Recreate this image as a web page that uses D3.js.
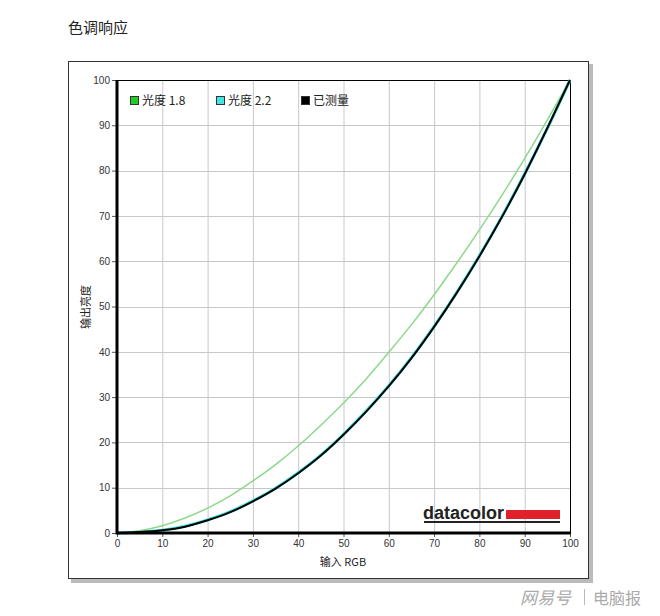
<!DOCTYPE html>
<html>
<head>
<meta charset="utf-8">
<script src="https://cdn.jsdelivr.net/npm/d3@7"></script>
<style>
  body { margin: 0; background: #fff; }
  svg { display: block; }
</style>
</head>
<body>
<div id="chart"></div>
<script>
// 输入 RGB 数值（x 轴）
var inputs = [0, 5, 10, 15, 20, 25, 30, 35, 40, 45, 50, 55, 60, 65, 70, 75, 80, 85, 90, 95, 100];
// 光度 1.8
var gamma18 = [0, 0.5, 1.6, 3.3, 5.5, 8.2, 11.5, 15.1, 19.2, 23.8, 28.7, 34.0, 39.9, 46.0, 52.6, 59.6, 66.9, 74.6, 82.7, 91.2, 100];
// 光度 2.2
var gamma22 = [0, 0.15, 0.6, 1.5, 2.9, 4.7, 7.1, 9.9, 13.3, 17.2, 21.8, 26.9, 32.5, 38.7, 45.6, 53.1, 61.2, 69.9, 79.3, 89.3, 100];
// 已测量
var measured = [0, 0.2, 0.6, 1.4, 2.8, 4.6, 7.0, 9.8, 13.2, 17.1, 21.7, 26.8, 32.4, 38.6, 45.5, 53.0, 61.1, 69.8, 79.2, 89.4, 100];
var ticks = [0, 10, 20, 30, 40, 50, 60, 70, 80, 90, 100];

var width = 660, height = 616;
var svg = d3.select("#chart").append("svg")
    .attr("width", width)
    .attr("height", height);

// 标题
svg.append("text")
    .attr("x", 68).attr("y", 33)
    .attr("font-family", "Noto Sans CJK SC")
    .attr("font-size", 15)
    .attr("fill", "#222")
    .text("色调响应");

// 外框和阴影
svg.append("rect").attr("x", 71).attr("y", 64).attr("width", 522).attr("height", 519).attr("fill", "#bbb");
svg.append("rect").attr("x", 68.5).attr("y", 61.5).attr("width", 520).attr("height", 517)
    .attr("fill", "#fff").attr("stroke", "#333").attr("stroke-width", 1);

var x = d3.scaleLinear().domain([0, 100]).range([117, 570]);
var y = d3.scaleLinear().domain([0, 100]).range([533, 80]);

// 网格
var grid = svg.append("g");
grid.selectAll(".gx").data(ticks.slice(1, -1)).enter().append("line")
    .attr("x1", d => x(d) + 0.5).attr("x2", d => x(d) + 0.5)
    .attr("y1", y(100)).attr("y2", y(0))
    .attr("stroke", "#c8c8c8");
grid.selectAll(".gy").data(ticks.slice(1, -1)).enter().append("line")
    .attr("y1", d => Math.round(y(d)) + 0.5).attr("y2", d => Math.round(y(d)) + 0.5)
    .attr("x1", x(0)).attr("x2", x(100))
    .attr("stroke", "#c8c8c8");

// 上、右边框
svg.append("line").attr("x1", x(0)).attr("x2", x(100)).attr("y1", y(100) + 0.5).attr("y2", y(100) + 0.5).attr("stroke", "#000");
svg.append("line").attr("x1", x(100) + 0.5).attr("x2", x(100) + 0.5).attr("y1", y(100)).attr("y2", y(0)).attr("stroke", "#000");

// datacolor 标志
svg.append("text")
    .attr("x", 423).attr("y", 519)
    .attr("font-family", "Liberation Sans")
    .attr("font-weight", "bold")
    .attr("font-size", 18)
    .attr("fill", "#222")
    .text("datacolor");
svg.append("rect").attr("x", 506).attr("y", 510).attr("width", 54).attr("height", 9).attr("fill", "#e0202a");
svg.append("rect").attr("x", 424).attr("y", 521).attr("width", 136).attr("height", 2).attr("fill", "#222");

// 曲线
var line = d3.line()
    .x((d, i) => x(inputs[i]))
    .y(d => y(d))
    .curve(d3.curveMonotoneX);

svg.append("path").datum(gamma18).attr("d", line)
    .attr("fill", "none").attr("stroke", "#8cd98c").attr("stroke-width", 1.5);
svg.append("path").datum(gamma22).attr("d", line)
    .attr("fill", "none").attr("stroke", "#3fe0e0").attr("stroke-width", 3);
svg.append("path").datum(measured).attr("d", line)
    .attr("fill", "none").attr("stroke", "#000").attr("stroke-width", 2);

// 坐标轴
var xAxis = svg.append("g")
    .attr("transform", "translate(0," + y(0) + ")")
    .call(d3.axisBottom(x).tickValues(ticks).tickSize(4).tickPadding(3));
var yAxis = svg.append("g")
    .attr("transform", "translate(" + x(0) + ",0)")
    .call(d3.axisLeft(y).tickValues(ticks).tickSize(5).tickPadding(2));
[xAxis, yAxis].forEach(function (g) {
    g.select(".domain").remove();
    g.selectAll("text")
        .attr("font-family", "Liberation Sans")
        .attr("font-size", 10)
        .attr("fill", "#333");
    g.selectAll("line").attr("stroke", "#555");
});
svg.append("line").attr("x1", x(0)).attr("x2", x(100) + 1).attr("y1", y(0)).attr("y2", y(0)).attr("stroke", "#000").attr("stroke-width", 3);
svg.append("line").attr("x1", x(0)).attr("x2", x(0)).attr("y1", y(100)).attr("y2", y(0) + 1.5).attr("stroke", "#000").attr("stroke-width", 3);

// 轴标题
svg.append("text")
    .attr("x", 343).attr("y", 566)
    .attr("text-anchor", "middle")
    .attr("font-family", "Noto Sans CJK SC")
    .attr("font-size", 11)
    .attr("fill", "#222")
    .text("输入 RGB");
svg.append("text")
    .attr("transform", "translate(90,307) rotate(-90)")
    .attr("text-anchor", "middle")
    .attr("font-family", "Noto Sans CJK SC")
    .attr("font-size", 11)
    .attr("fill", "#222")
    .text("输出亮度");

// 图例
var legendItems = [
    { label: "光度 1.8", color: "#22cc22", x: 130 },
    { label: "光度 2.2", color: "#44e4e4", x: 216 },
    { label: "已测量", color: "#000", x: 301 }
];
var legend = svg.selectAll(".legend").data(legendItems).enter().append("g")
    .attr("transform", d => "translate(" + d.x + ",96)");
legend.append("rect")
    .attr("x", 0.5).attr("y", 0.5).attr("width", 8).attr("height", 8)
    .attr("fill", d => d.color).attr("stroke", "#333");
legend.append("text")
    .attr("x", 12).attr("y", 9)
    .attr("font-family", "Noto Sans CJK SC")
    .attr("font-size", 12)
    .attr("fill", "#222")
    .text(d => d.label);

// 水印
svg.append("text")
    .attr("x", 520).attr("y", 604)
    .attr("font-family", "Noto Sans CJK SC")
    .attr("font-size", 17)
    .attr("font-style", "italic")
    .attr("fill", "#aaa")
    .text("网易号");
svg.append("rect").attr("x", 584).attr("y", 589).attr("width", 1).attr("height", 16).attr("fill", "#bbb");
svg.append("text")
    .attr("x", 593).attr("y", 604)
    .attr("font-family", "Noto Sans CJK SC")
    .attr("font-size", 16)
    .attr("fill", "#aaa")
    .text("电脑报");
</script>
</body>
</html>
